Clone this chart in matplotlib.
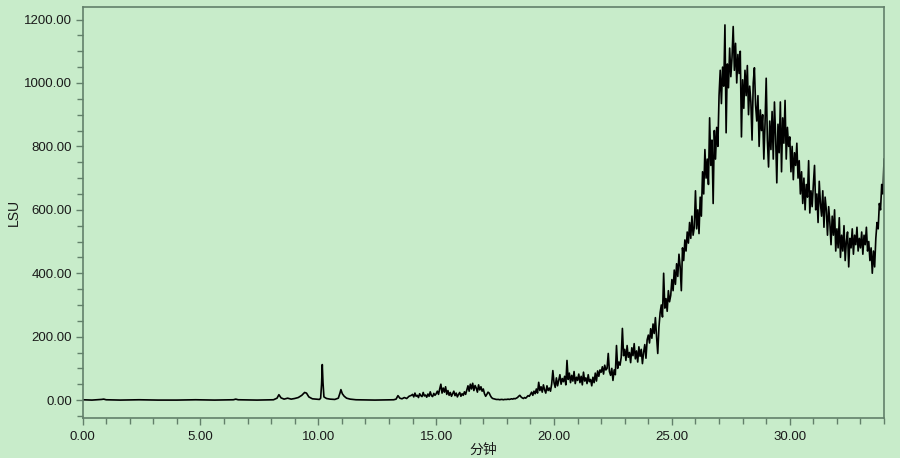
import numpy as np
import matplotlib.pyplot as plt
from matplotlib.ticker import MultipleLocator, FormatStrFormatter

# baseline part of the trace (minutes, LSU)
early_t = [0.0, 0.4, 0.8, 0.9, 1.0, 1.6, 2.4, 3.2, 4.0, 4.8, 5.6, 6.4, 6.5, 6.6,
           7.4, 8.1, 8.25, 8.33, 8.42, 8.55, 8.7, 8.85, 9.0, 9.15, 9.3, 9.42,
           9.5, 9.6, 9.75, 9.9, 10.05, 10.1, 10.14, 10.17, 10.2, 10.24, 10.35,
           10.5, 10.7, 10.85, 10.92, 10.96, 11.02, 11.1, 11.2, 11.35, 11.6,
           12.4, 13.2, 13.3, 13.38, 13.46, 13.55, 13.65, 13.75, 13.85, 13.95]
early_v = [1, 0, 2, 3, 1, 0, 1, 0, 0, 1, 0, 1, 3, 1,
           0, 1, 6, 17, 7, 3, 6, 3, 5, 8, 15, 24,
           22, 10, 4, 3, 2, 6, 50, 112, 55, 10, 5,
           3, 2, 6, 22, 33, 20, 12, 6, 3, 1,
           0, 1, 3, 14, 6, 4, 8, 5, 12, 15]

# noisy part, one row per minute, sampled every 0.05 min from 14.00
grid_start = 14.0
grid_step = 0.05
noisy_v = [
    18, 10, 22, 12, 15, 8, 20, 14, 11, 24, 13, 16, 9, 19, 12, 26, 14, 11, 21, 15,          # 14
    20, 28, 18, 35, 50, 22, 38, 25, 42, 18, 30, 15, 24, 12, 20, 28, 14, 22, 10, 18,        # 15
    24, 12, 20, 15, 26, 18, 32, 45, 28, 50, 35, 53, 30, 46, 38, 25, 48, 32, 42, 28,        # 16
    35, 20, 12, 18, 25, 22, 14, 8, 5, 4, 3, 2, 2, 2, 1, 2, 2, 1, 2, 2,                     # 17
    2, 3, 2, 3, 4, 3, 5, 4, 6, 8, 12, 15, 10, 7, 5, 8, 6, 10, 14, 12,                      # 18
    18, 25, 15, 28, 20, 35, 22, 56, 30, 42, 25, 48, 32, 22, 45, 30, 38, 28, 50, 93,        # 19
    55, 40, 70, 45, 62, 80, 50, 68, 58, 75, 48, 125, 65, 85, 55, 78, 60, 90, 52, 72,       # 20
    62, 82, 55, 75, 48, 88, 60, 70, 52, 80, 58, 65, 45, 72, 55, 85, 60, 92, 75, 95,        # 21
    88, 105, 82, 110, 95, 100, 147, 90, 78, 100, 62, 95, 80, 172, 100, 120, 110, 135, 226, 140,  # 22
    160, 125, 172, 135, 150, 118, 165, 140, 178, 130, 155, 120, 168, 138, 160, 115, 150, 175, 132, 190,  # 23
    205, 180, 225, 195, 240, 210, 260, 200, 147, 230, 275, 300, 262, 400, 290, 320, 280, 345, 310, 330,  # 24
    380, 345, 410, 365, 430, 390, 460, 420, 345, 480, 440, 505, 470, 530, 495, 560, 510, 580, 520, 545,  # 25
    660, 540, 600, 525, 640, 580, 720, 650, 790, 700, 760, 680, 890, 740, 820, 620, 850, 760, 860, 800,  # 26
    960, 1040, 935, 1050, 990, 1183, 843, 1060, 985, 1110, 1020, 1080, 1178, 1040, 1125, 1000, 1090, 1030, 1100, 830,  # 27
    1010, 920, 1040, 960, 1055, 900, 990, 940, 820, 1000, 1048, 930, 880, 960, 800, 915, 850, 900, 760, 870,  # 28
    1015, 820, 735, 880, 790, 910, 760, 940, 830, 685, 870, 780, 940, 720, 890, 810, 945, 760, 860, 800,  # 29
    830, 720, 800, 695, 780, 740, 810, 700, 755, 650, 720, 620, 700, 600, 680, 640, 755, 590, 660, 610,  # 30
    680, 740, 600, 650, 560, 690, 620, 580, 660, 545, 640, 600, 520, 610, 560, 490, 580, 520, 600, 470,  # 31
    540, 480, 575, 450, 520, 470, 550, 440, 500, 530, 420, 510, 480, 540, 460, 520, 490, 545, 470, 510,  # 32
    480, 530, 460, 520, 490, 545, 470, 500, 440, 480, 400, 470, 420, 510, 560, 540, 620, 600, 680, 650,  # 33
    760,  # 34.00
]

noisy_t = grid_start + grid_step * np.arange(len(noisy_v))
t = np.concatenate([early_t, noisy_t])
lsu = np.concatenate([early_v, noisy_v])

bg = '#c8ecca'
edge = '#62806a'

plt.rcParams['font.family'] = ['Liberation Sans', 'Noto Sans CJK SC', 'DejaVu Sans']

fig = plt.figure(figsize=(9, 4.58), dpi=100, facecolor=bg)
ax = fig.add_axes([0.0917, 0.087, 0.8906, 0.898])
ax.set_facecolor(bg)

ax.plot(t, lsu, color='black', linewidth=1.2)

ax.set_xlim(0, 34.0)
ax.set_ylim(-57, 1240)
ax.xaxis.set_major_locator(MultipleLocator(5))
ax.xaxis.set_minor_locator(MultipleLocator(1))
ax.yaxis.set_major_locator(MultipleLocator(200))
ax.yaxis.set_minor_locator(MultipleLocator(50))
ax.xaxis.set_major_formatter(FormatStrFormatter('%.2f'))
ax.yaxis.set_major_formatter(FormatStrFormatter('%.2f'))

for s in ax.spines.values():
    s.set_color(edge)
    s.set_linewidth(1.2)
ax.tick_params(which='both', direction='out', color=edge, labelcolor='#1a1a1a',
               labelsize=9.5, length=5, width=1, pad=2.5)
ax.tick_params(which='minor', length=4)
ax.tick_params(axis='x', pad=4)

ax.set_ylabel('LSU', fontsize=10, color='#1a1a1a')
ax.yaxis.set_label_coords(-0.077, 0.5)
ax.set_xlabel('分钟', fontsize=10, color='#1a1a1a',
              family=['Noto Sans CJK SC', 'DejaVu Sans'])
ax.xaxis.set_label_coords(0.5, -0.06)

fig.savefig('out.png', dpi=100, facecolor=bg)
